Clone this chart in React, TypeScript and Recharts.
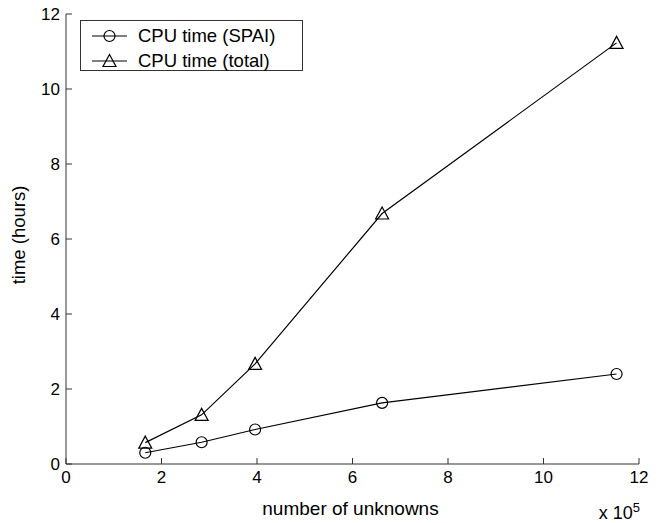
import React from 'react';
import { LineChart, Line, XAxis, YAxis, Legend } from 'recharts';

const unknowns = [1.66, 2.84, 3.96, 6.62, 11.53];
const cpuSpai = [0.30, 0.58, 0.92, 1.63, 2.40];
const cpuTotal = [0.57, 1.31, 2.67, 6.68, 11.23];
const xTicks = [0, 2, 4, 6, 8, 10, 12];
const yTicks = [0, 2, 4, 6, 8, 10, 12];
const seriesNames = ['CPU time (SPAI)', 'CPU time (total)'];

const data = unknowns.map((u, i) => ({ u, spai: cpuSpai[i], total: cpuTotal[i] }));

const FONT = '"Liberation Sans", Arial, Helvetica, sans-serif';
const AXIS = '#333';
const LW = 1.2;

const Circle = (props: any) => {
  const { cx, cy, key } = props;
  if (cx == null || cy == null) return null;
  return <circle key={key} cx={cx} cy={cy} r={5.5} fill="none" stroke="#000" strokeWidth={LW} />;
};

const Tri = (props: any) => {
  const { cx, cy, key } = props;
  if (cx == null || cy == null) return null;
  const d = `M${cx},${cy - 6.5} L${cx + 6.5},${cy + 5.5} L${cx - 6.5},${cy + 5.5} Z`;
  return <path key={key} d={d} fill="none" stroke="#000" strokeWidth={LW} />;
};

const LegendBox = () => (
  <svg width={224} height={52} style={{ display: 'block' }}>
    <rect x={0.5} y={0.5} width={222} height={50} fill="#fff" stroke={AXIS} strokeWidth={1} />
    <line x1={12} x2={47} y1={16} y2={16} stroke="#000" strokeWidth={LW} />
    <circle cx={29.5} cy={16} r={5.5} fill="none" stroke="#000" strokeWidth={LW} />
    <text x={58} y={16} dy="0.35em" fontSize={18.5} fontFamily={FONT} fill="#000">{seriesNames[0]}</text>
    <line x1={12} x2={47} y1={41} y2={41} stroke="#000" strokeWidth={LW} />
    <path d="M29.5,34.5 L36,46.5 L23,46.5 Z" fill="none" stroke="#000" strokeWidth={LW} />
    <text x={58} y={41} dy="0.35em" fontSize={18.5} fontFamily={FONT} fill="#000">{seriesNames[1]}</text>
  </svg>
);

const XLabel = (props: any) => {
  const { viewBox } = props;
  const { x, y, width } = viewBox;
  return (
    <g>
      <text x={x + width / 2 - 2} y={y + 51} textAnchor="middle" fontSize={19} fontFamily={FONT} fill="#000">
        number of unknowns
      </text>
      <text x={x + width + 1} y={y + 55} textAnchor="end" fontSize={18} fontFamily={FONT} fill="#000">
        x 10<tspan dy={-7} fontSize={13}>5</tspan>
      </text>
    </g>
  );
};

const YLabel = (props: any) => {
  const { viewBox } = props;
  const { y, height } = viewBox;
  const cy = y + height / 2 - 4;
  return (
    <text x={19} y={cy} transform={`rotate(-90, 19, ${cy})`} textAnchor="middle" dy="0.35em" fontSize={18.5} fontFamily={FONT} fill="#000">
      time (hours)
    </text>
  );
};

export default function App() {
  return (
    <div style={{ position: 'absolute', left: 0, top: 0, width: 662, height: 523, background: '#fff' }}>
      <LineChart width={662} height={523} data={data} margin={{ top: 14, right: 23, bottom: 0, left: 0 }}>
        <XAxis
          xAxisId="b"
          dataKey="u"
          type="number"
          domain={[0, 12]}
          ticks={xTicks}
          orientation="bottom"
          height={59}
          tickSize={-6}
          tickMargin={13}
          stroke={AXIS}
          tick={{ fill: '#000', fontSize: 17, fontFamily: FONT }}
          interval={0}
          label={{ content: XLabel }}
        />
        <XAxis
          xAxisId="t"
          dataKey="u"
          type="number"
          domain={[0, 12]}
          ticks={xTicks}
          orientation="top"
          height={0}
          tickSize={-6}
          stroke={AXIS}
          tickFormatter={() => ''}
          interval={0}
        />
        <YAxis
          yAxisId="l"
          type="number"
          domain={[0, 12]}
          ticks={yTicks}
          orientation="left"
          width={66}
          tickSize={-6}
          tickMargin={12}
          stroke={AXIS}
          tick={{ fill: '#000', fontSize: 17, fontFamily: FONT }}
          interval={0}
          label={{ content: YLabel }}
        />
        <YAxis
          yAxisId="r"
          type="number"
          domain={[0, 12]}
          ticks={yTicks}
          orientation="right"
          width={0}
          tickSize={-6}
          stroke={AXIS}
          tickFormatter={() => ''}
          interval={0}
        />
        <Line xAxisId="b" yAxisId="l" dataKey="spai" name={seriesNames[0]} stroke="#000" strokeWidth={LW} dot={Circle} activeDot={false} isAnimationActive={false} />
        <Line xAxisId="b" yAxisId="l" dataKey="total" name={seriesNames[1]} stroke="#000" strokeWidth={LW} dot={Tri} activeDot={false} isAnimationActive={false} />
        <Legend
          layout="horizontal"
          verticalAlign="middle"
          align="center"
          content={LegendBox}
          wrapperStyle={{ position: 'absolute', left: 80, top: 20, width: 224, height: 52 }}
        />
      </LineChart>
    </div>
  );
}
